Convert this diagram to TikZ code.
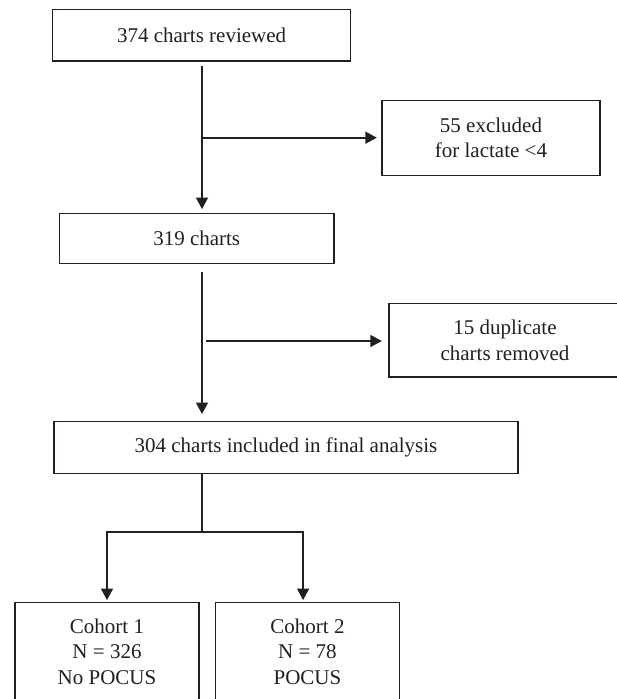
\documentclass[tikz,border=0pt]{standalone}
\usepackage{fontspec}
\setmainfont{Liberation Serif}
\usetikzlibrary{arrows.meta}
\definecolor{lc}{HTML}{231F20}
\begin{document}
\begin{tikzpicture}[x=1pt,y=-1pt,
  box/.style={draw=lc, line width=1.3pt, inner sep=0pt, align=center, text=lc,
    font=\fontsize{21}{25.5}\selectfont},
  conn/.style={draw=lc, line width=1.6pt},
  arr/.style={conn, -{Triangle[width=12pt,length=11.5pt]}}]
\clip (0,0) rectangle (617,699);
\fill[white] (0,0) rectangle (617,699);
\node[box, minimum width=298.4pt, minimum height=51.3pt] (b374) at (201.6,35.35) {374 charts reviewed};
\node[box, minimum width=218pt, minimum height=75pt] (excl) at (491,137.8) {55 excluded\\for lactate <4};
\node[box, minimum width=274.6pt, minimum height=49.6pt] (b319) at (196.7,238.5) {319 charts};
\node[box, minimum width=232pt, minimum height=73.7pt] (dup) at (505,340.2) {15 duplicate\\charts removed};
\node[box, minimum width=464pt, minimum height=51.6pt] (b304) at (286,447.5) {304 charts included in final analysis};
\node[box, minimum width=184pt, minimum height=98pt] (c1) at (107,651.7) {Cohort 1\\N = 326\\No POCUS};
\node[box, minimum width=184.2pt, minimum height=98pt] (c2) at (307.5,651.7) {Cohort 2\\N = 78\\POCUS};
\coordinate (x0) at (202,0);
\coordinate (j1) at (202,137.7);
\coordinate (j2) at (202,341);
\coordinate (s) at (202,531.7);
\draw[arr, shorten <=4pt, shorten >=4pt] (b374.south -| x0) -- (b319.north -| x0);
\draw[arr, shorten >=4.5pt] (j1) -- (j1 -| excl.west);
\draw[arr, shorten <=8.4pt, shorten >=7pt] (b319.south -| x0) -- (b304.north -| x0);
\draw[arr, shorten <=4pt, shorten >=6.5pt] (j2) -- (j2 -| dup.west);
\draw[conn] (b304.south -| x0) -- (s);
\draw[arr, shorten >=2pt] (s) -| (c1.north);
\draw[arr, shorten >=2pt] (s) -| ([xshift=-4.4pt]c2.north);
\end{tikzpicture}
\end{document}
